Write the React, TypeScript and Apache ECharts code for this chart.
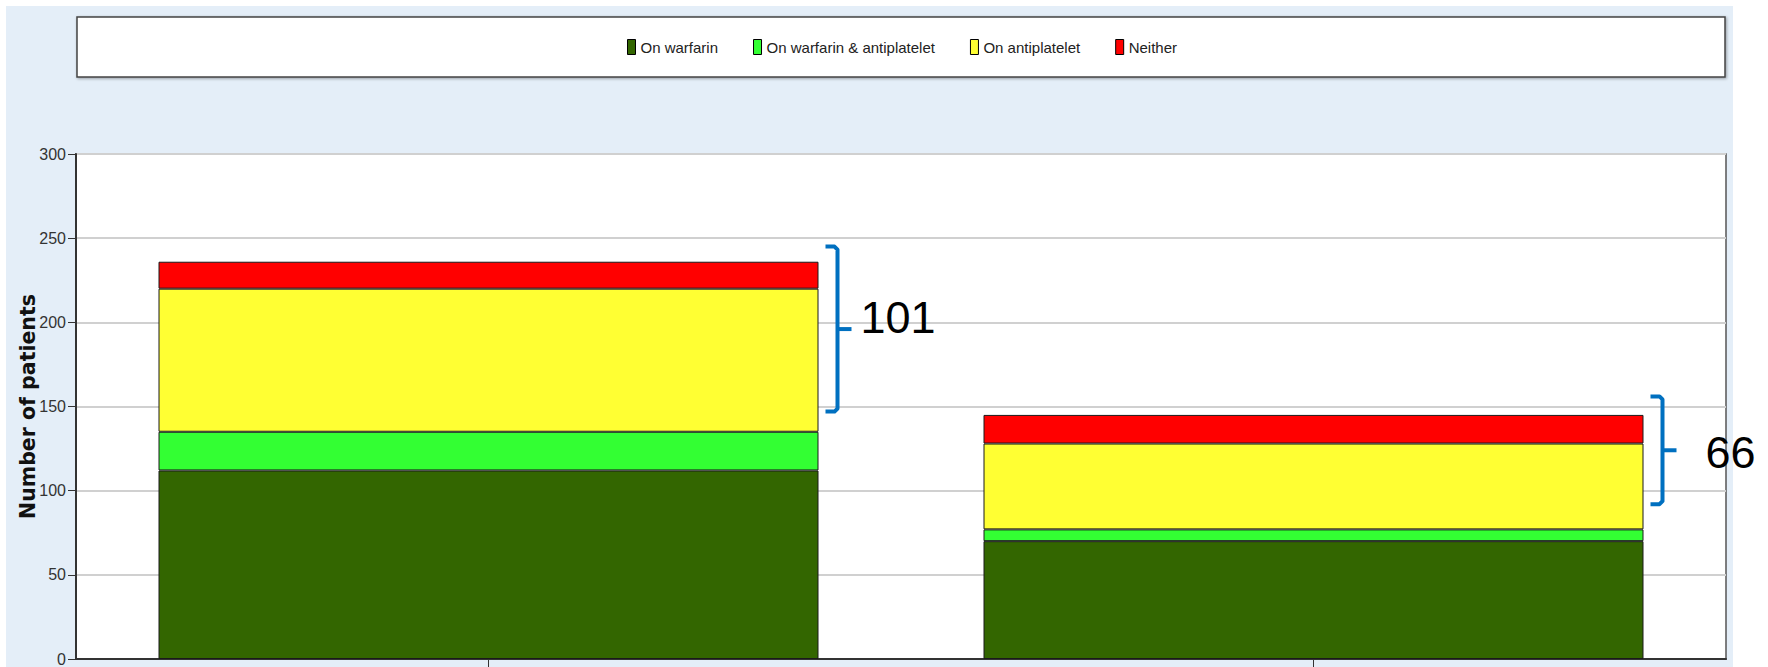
import React, { useEffect, useRef } from "react";
import * as echarts from "echarts";

// ---- data ----
const categories = ["Group A", "Group B"];
const seriesNames = ["On warfarin", "On warfarin & antiplatelet", "On antiplatelet", "Neither"];
const onWarfarin = [112, 70];
const onWarfarinAntiplatelet = [23, 7];
const onAntiplatelet = [85, 51];
const neither = [16, 17];
const yTicks = [0, 50, 100, 150, 200, 250, 300];
// bracket annotations: [category index, low value, high value]
const bracketRanges = [
  [0, 147, 245],
  [1, 92, 156],
];
const bracketLabels = ["101", "66"];

// ---- layout / style constants ----
const colors = ["#336600", "#33FF33", "#FFFF33", "#FF0000"];
const labelOffsets = [
  [23, -12],
  [43, 2],
];
const SANS = "'Liberation Sans', Arial, sans-serif";

export default function App() {
  const ref = useRef<HTMLDivElement>(null);

  useEffect(() => {
    document.body.style.margin = "0";
    if (!ref.current) return;
    const chart = echarts.init(ref.current, undefined, { renderer: "svg" });

    const values = [onWarfarin, onWarfarinAntiplatelet, onAntiplatelet, neither];

    const barSeries = seriesNames.map((name, i) => ({
      name,
      type: "bar",
      stack: "total",
      data: values[i],
      barCategoryGap: "20%",
      itemStyle: { color: colors[i], borderColor: "#1a1a1a", borderWidth: 1 },
      emphasis: { disabled: true },
    }));

    const bracketSeries = {
      type: "custom",
      name: "brackets",
      coordinateSystem: "cartesian2d",
      clip: false,
      z: 10,
      encode: { x: 0, y: [1, 2] },
      data: bracketRanges,
      renderItem: (params: any, api: any) => {
        const idx = params.dataIndex;
        const cat = api.value(0);
        const low = api.value(1);
        const high = api.value(2);
        const top = api.coord([cat, high]);
        const bot = api.coord([cat, low]);
        const bw = api.size([1, 0])[0];
        const x = top[0] + bw * 0.4 + 19;
        const yT = top[1];
        const yB = bot[1];
        const yM = (yT + yB) / 2;
        const serif = 12;
        const tick = 14;
        const off = labelOffsets[idx] || [30, 0];
        const lineStyle = {
          stroke: "#0070C0",
          lineWidth: 4,
          fill: null,
          lineJoin: "round",
          lineCap: "butt",
        };
        return {
          type: "group",
          children: [
            {
              type: "polyline",
              shape: {
                points: [
                  [x - serif, yT],
                  [x - 3, yT],
                  [x, yT + 3],
                  [x, yB - 3],
                  [x - 3, yB],
                  [x - serif, yB],
                ],
              },
              style: lineStyle,
            },
            {
              type: "line",
              shape: { x1: x, y1: yM, x2: x + tick, y2: yM },
              style: lineStyle,
            },
            {
              type: "text",
              x: x + off[0],
              y: yM + off[1],
              style: {
                text: bracketLabels[idx],
                fill: "#000",
                fontSize: 45,
                fontFamily: SANS,
                align: "left",
                verticalAlign: "middle",
              },
            },
          ],
        };
      },
    };

    chart.setOption({
      animation: false,
      backgroundColor: "transparent",
      graphic: {
        elements: [
          {
            type: "rect",
            z: 1,
            shape: { x: 77, y: 17, width: 1648, height: 60 },
            style: {
              fill: "#ffffff",
              stroke: "#444",
              lineWidth: 1.5,
              shadowBlur: 3,
              shadowColor: "rgba(0,0,0,0.35)",
              shadowOffsetX: 1,
              shadowOffsetY: 1,
            },
          },
        ],
      },
      legend: {
        data: seriesNames,
        top: 34,
        left: 622,
        itemGap: 35,
        itemWidth: 8,
        itemHeight: 15,
        icon: "rect",
        selectedMode: false,
        itemStyle: { borderColor: "#000", borderWidth: 1 },
        textStyle: { fontFamily: SANS, fontSize: 15, color: "#222" },
      },
      grid: {
        left: 76,
        right: 42,
        top: 154,
        bottom: 5,
        show: true,
        backgroundColor: "#ffffff",
        borderColor: "#555",
        borderWidth: 1.5,
      },
      xAxis: {
        type: "category",
        data: categories,
        axisLine: { lineStyle: { color: "#333", width: 2 } },
        axisTick: { show: true, alignWithLabel: true, length: 8, lineStyle: { color: "#333" } },
        axisLabel: { show: false },
      },
      yAxis: {
        type: "value",
        min: yTicks[0],
        max: yTicks[yTicks.length - 1],
        interval: yTicks[1] - yTicks[0],
        name: "Number of patients",
        nameLocation: "middle",
        nameGap: 38,
        nameMoveOverlap: false,
        nameRotate: 90,
        nameTextStyle: {
          fontFamily: "'DejaVu Sans', Verdana, sans-serif",
          fontWeight: "bold",
          fontSize: 20.5,
          color: "#111",
        },
        axisLine: { show: true, lineStyle: { color: "#333", width: 2 } },
        axisTick: { show: true, length: 8, lineStyle: { color: "#333" } },
        axisLabel: { fontFamily: SANS, fontSize: 16, color: "#333", margin: 10 },
        splitLine: { show: true, lineStyle: { color: "#d0d0d0", width: 2 } },
      },
      series: [...barSeries, bracketSeries],
    });

    return () => chart.dispose();
  }, []);

  return (
    <div style={{ position: "relative", width: 1768, height: 667, background: "#ffffff", overflow: "hidden" }}>
      <div style={{ position: "absolute", left: 6, top: 6, width: 1727, height: 661, background: "#E4EEF8" }} />
      <div ref={ref} style={{ position: "absolute", left: 0, top: 0, width: 1768, height: 667 }} />
    </div>
  );
}
